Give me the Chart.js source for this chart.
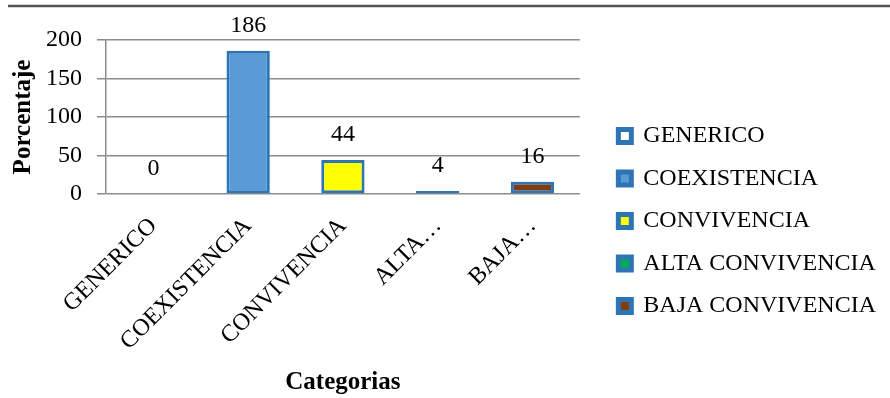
<!DOCTYPE html>
<html>
<head>
<meta charset="utf-8">
<script src="https://cdn.jsdelivr.net/npm/chart.js@4.4.0/dist/chart.umd.min.js"></script>
<style>
  html, body { margin: 0; padding: 0; background: #fff; }
  #wrap { position: relative; width: 890px; height: 398px; }
</style>
</head>
<body>
<div id="wrap"><canvas id="c" width="890" height="398"></canvas></div>
<script>
// Category names (legend) and the shortened axis labels
const categories = ['GENERICO', 'COEXISTENCIA', 'CONVIVENCIA', 'ALTA CONVIVENCIA', 'BAJA CONVIVENCIA'];
const tickLabels = ['GENERICO', 'COEXISTENCIA', 'CONVIVENCIA', 'ALTA…', 'BAJA…'];
// Count per category
const values = [0, 186, 44, 4, 16];
// Y axis ticks
const yTicks = [0, 50, 100, 150, 200];

const fillColors = ['#FFFFFF', '#5B9BD5', '#FFFF00', '#00B050', '#843C0C'];
const edgeColor = '#2E75B6';
const gridGray = '#8c8c8c';
const serif = '"Liberation Serif", "Times New Roman", serif';

Chart.defaults.font.family = serif;
Chart.defaults.color = '#000';

// One dataset per category so every category gets its own legend entry
const datasets = categories.map((name, i) => ({
  label: name,
  data: values.map((v, j) => (j === i ? v : null)),
  yAxisID: 'y',
  backgroundColor: fillColors[i],
  borderColor: edgeColor,
  borderWidth: 3,
  borderSkipped: false,
  grouped: false,
  categoryPercentage: 1,
  barPercentage: 0.457
}));

// Value printed above each bar
const valueLabels = {
  id: 'valueLabels',
  afterDatasetsDraw(chart) {
    const ctx = chart.ctx;
    ctx.save();
    ctx.font = '24px ' + serif;
    ctx.fillStyle = '#000';
    ctx.textAlign = 'center';
    ctx.textBaseline = 'middle';
    chart.data.datasets.forEach((ds, i) => {
      chart.getDatasetMeta(i).data.forEach((el, j) => {
        const v = ds.data[j];
        if (v === null || v === undefined) return;
        ctx.fillText(String(v), el.x, el.y - 25);
      });
    });
    ctx.restore();
  }
};

// Thin rule across the top of the figure
const topRule = {
  id: 'topRule',
  beforeDraw(chart) {
    const ctx = chart.ctx;
    ctx.save();
    ctx.strokeStyle = '#555';
    ctx.lineWidth = 2.5;
    ctx.beginPath();
    ctx.moveTo(8, 6);
    ctx.lineTo(chart.width, 6);
    ctx.stroke();
    ctx.restore();
  }
};

new Chart(document.getElementById('c'), {
  type: 'bar',
  data: { labels: categories, datasets },
  plugins: [topRule, valueLabels],
  options: {
    responsive: false,
    animation: false,
    devicePixelRatio: 1,
    layout: { padding: { left: 0, right: 4, top: 0, bottom: 0 } },
    plugins: {
      tooltip: { enabled: false },
      legend: {
        position: 'right',
        align: 'center',
        maxWidth: 340,
        title: { display: true, text: ' ', font: { size: 10 }, padding: { top: 32, bottom: 0 } },
        labels: {
          boxWidth: 13,
          boxHeight: 13,
          padding: 18.5,
          color: '#000',
          font: { size: 24, family: serif },
          generateLabels: (chart) => chart.data.datasets.map((ds, i) => ({
            text: ds.label,
            fillStyle: ds.backgroundColor,
            strokeStyle: ds.borderColor,
            lineWidth: 5,
            fontColor: '#000',
            hidden: false,
            datasetIndex: i
          }))
        }
      }
    },
    scales: {
      x: {
        ticks: {
          autoSkip: false,
          minRotation: 45,
          maxRotation: 45,
          padding: 18,
          color: '#000',
          font: { size: 24, family: serif },
          callback: (v, i) => tickLabels[i]
        },
        grid: { display: false, drawTicks: false },
        border: { display: false },
        title: {
          display: true,
          text: 'Categorias',
          color: '#000',
          font: { size: 25, weight: 'bold', family: serif },
          padding: { top: 0, bottom: 0 }
        },
        afterFit: (s) => {
          s.height = 204;
          s.paddingLeft = 0;
          s.paddingRight = 0;
        }
      },
      y: {
        position: 'left',
        min: yTicks[0],
        max: yTicks[yTicks.length - 1],
        afterBuildTicks: (s) => { s.ticks = yTicks.map(v => ({ value: v })); },
        ticks: {
          padding: 15,
          color: '#000',
          font: { size: 24, family: serif }
        },
        grid: { color: gridGray, lineWidth: 1.5, tickLength: 9, drawTicks: true },
        border: { display: true, color: gridGray, width: 1.5 },
        title: {
          display: true,
          text: 'Porcentaje',
          color: '#000',
          font: { size: 25, weight: 'bold', family: serif },
          padding: { top: 9, bottom: 0 }
        },
        afterFit: (s) => {
          s.width = 106;
          s.paddingTop = 40;
          s.paddingBottom = 0;
        }
      },
      // empty spacer between the plot and the legend
      gap: {
        type: 'linear',
        axis: 'y',
        position: 'right',
        display: true,
        grid: { display: false, drawTicks: false },
        border: { display: false },
        ticks: { display: false },
        afterFit: (s) => { s.width = 20; }
      }
    }
  }
});
</script>
</body>
</html>
